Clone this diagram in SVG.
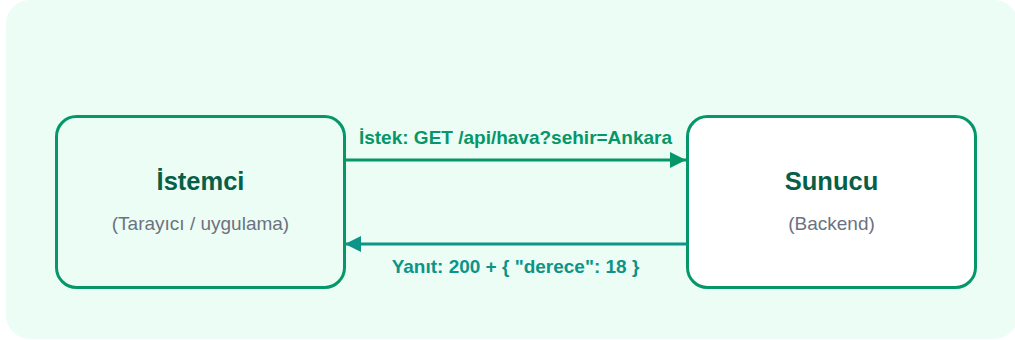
<svg xmlns="http://www.w3.org/2000/svg" width="1015" height="340" viewBox="0 0 1015 340">
  <style>
    .panel { fill: #ecfdf5; }
    .node { stroke: #059669; stroke-width: 3; }
    .title { font-family: "Liberation Sans", Arial, sans-serif; font-weight: bold; font-size: 25.5px; fill: #065f46; text-anchor: middle; }
    .sub { font-family: "Liberation Sans", Arial, sans-serif; font-size: 19px; fill: #6b7280; text-anchor: middle; }
    .lbl { font-family: "Liberation Sans", Arial, sans-serif; font-weight: bold; font-size: 19px; text-anchor: middle; }
    .req { stroke: #059669; stroke-width: 3; fill: none; }
    .res { stroke: #0d9488; stroke-width: 3; fill: none; }
  </style>
  <defs>
    <marker id="headReq" viewBox="0 0 10 10" refX="10" refY="5" markerWidth="16" markerHeight="16" markerUnits="userSpaceOnUse" orient="auto">
      <path d="M0,0 L10,5 L0,10 Z" fill="#059669"/>
    </marker>
    <marker id="headRes" viewBox="0 0 10 10" refX="10" refY="5" markerWidth="16" markerHeight="16" markerUnits="userSpaceOnUse" orient="auto">
      <path d="M0,0 L10,5 L0,10 Z" fill="#0d9488"/>
    </marker>
  </defs>

  <rect class="panel" x="6" y="0" width="1012" height="339" rx="24"/>

  <g id="istemci">
    <rect class="node" x="56.5" y="116.5" width="288" height="171" rx="20" fill="#ecfdf5"/>
    <text class="title" x="200.5" y="190">İstemci</text>
    <text class="sub" x="200.5" y="230">(Tarayıcı / uygulama)</text>
  </g>

  <g id="sunucu">
    <rect class="node" x="687.5" y="116.5" width="288" height="171" rx="20" fill="#ffffff"/>
    <text class="title" x="831.5" y="190">Sunucu</text>
    <text class="sub" x="831.5" y="230">(Backend)</text>
  </g>

  <g id="connectors">
    <line class="req" x1="345" y1="160" x2="686" y2="160" marker-end="url(#headReq)"/>
    <text class="lbl" x="515.5" y="144" fill="#059669">İstek: GET /api/hava?sehir=Ankara</text>
    <line class="res" x1="687" y1="244" x2="345" y2="244" marker-end="url(#headRes)"/>
    <text class="lbl" x="515.5" y="273" fill="#0d9488">Yanıt: 200 + { "derece": 18 }</text>
  </g>
</svg>
